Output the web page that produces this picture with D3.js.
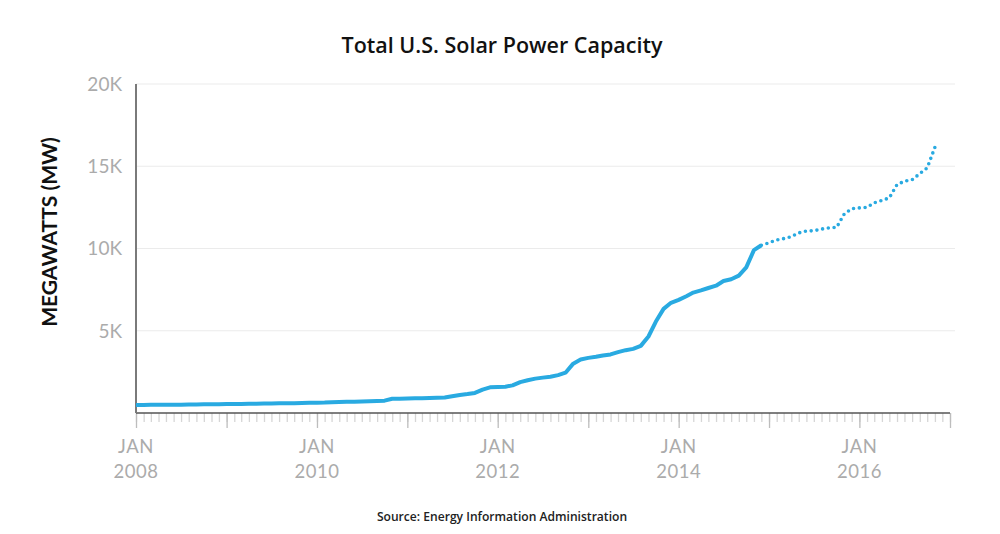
<!DOCTYPE html>
<html>
<head>
<meta charset="utf-8">
<script src="https://cdn.jsdelivr.net/npm/d3@7"></script>
<style>
  body { margin: 0; background: #fff; }
  svg { display: block; font-family: Lato, "Open Sans", sans-serif; }
</style>
</head>
<body>
<div id="chart"></div>
<script>
// monthly capacity, MW, starting Jan 2008
const startDate = new Date(2008, 0, 1);
const actualMW = [
  490, 490, 495, 495, 500, 500, 505, 510, 515, 525,
  530, 535, 540, 545, 550, 555, 560, 570, 580, 590,
  590, 600, 610, 620, 630, 640, 660, 670, 680, 690,
  700, 710, 730, 750, 870, 870, 880, 890, 900, 910,
  920, 940, 1020, 1100, 1150, 1220, 1420, 1560, 1580, 1600,
  1680, 1880, 1990, 2090, 2150, 2200, 2300, 2450, 3000, 3250,
  3350, 3420, 3500, 3560, 3700, 3820, 3900, 4080, 4650, 5560,
  6330, 6700, 6880, 7100, 7320, 7450, 7600, 7740, 8020, 8130,
  8350, 8850, 9900, 10200
];
// dotted part, starts at the last actual month (Dec 2014)
const estimatedMW = [
  10200, 10350, 10520, 10600, 10720, 10950, 11060, 11080, 11180, 11260,
  11280, 12100, 12420, 12470, 12500, 12780, 12920, 13080, 13880, 14090,
  14180, 14550, 14900, 16150
];
const yTicks = [5000, 10000, 15000, 20000];
const yTickLabels = ["5K", "10K", "15K", "20K"];
const labelYears = [2008, 2010, 2012, 2014, 2016];

const width = 1000, height = 534;
const margin = { top: 84, right: 50, bottom: 121, left: 136 };

const svg = d3.select('#chart').append('svg')
  .attr('width', width)
  .attr('height', height);

const monthDate = i => d3.timeMonth.offset(startDate, i);
const actual = actualMW.map((v, i) => ({ date: monthDate(i), value: v }));
const offset = actualMW.length - 1;
const estimated = estimatedMW.map((v, i) => ({ date: monthDate(offset + i), value: v }));

const x = d3.scaleTime()
  .domain([startDate, new Date(2017, 0, 1)])
  .range([margin.left, width - margin.right]);

const y = d3.scaleLinear()
  .domain([0, 20000])
  .range([height - margin.bottom, margin.top]);

// gridlines
svg.append('g')
  .selectAll('line')
  .data(yTicks)
  .join('line')
  .attr('x1', margin.left)
  .attr('x2', width - 45)
  .attr('y1', d => y(d))
  .attr('y2', d => y(d))
  .attr('stroke', '#ebebeb')
  .attr('stroke-width', 1);

// y tick labels
svg.append('g')
  .selectAll('text')
  .data(yTicks)
  .join('text')
  .attr('x', margin.left - 14)
  .attr('y', d => y(d))
  .attr('dy', '0.36em')
  .attr('text-anchor', 'end')
  .attr('fill', '#ababab')
  .attr('font-size', 19)
  .text((d, i) => yTickLabels[i]);

// monthly minor ticks
const x0 = height - margin.bottom;
svg.append('g')
  .attr('transform', `translate(0,${x0})`)
  .call(d3.axisBottom(x).ticks(d3.timeMonth.every(1)).tickSize(9).tickFormat(''))
  .call(g => g.select('.domain').remove())
  .call(g => g.selectAll('.tick line').attr('stroke', '#d6d6d6').attr('stroke-width', 1.3));

// yearly major ticks
svg.append('g')
  .attr('transform', `translate(0,${x0})`)
  .call(d3.axisBottom(x).ticks(d3.timeYear.every(1)).tickSize(15).tickFormat(''))
  .call(g => g.select('.domain').remove())
  .call(g => g.selectAll('.tick line').attr('stroke', '#bdbdbd').attr('stroke-width', 1.3));

// x labels
const xl = svg.append('g')
  .selectAll('g')
  .data(labelYears)
  .join('g')
  .attr('transform', d => `translate(${x(new Date(d, 0, 1))},0)`)
  .attr('fill', '#ababab')
  .attr('font-size', 18.5)
  .attr('text-anchor', 'middle');
xl.append('text').attr('y', 453).attr('letter-spacing', 0.5).text('JAN');
xl.append('text').attr('y', 478).attr('letter-spacing', 0.5).text(d => d);

// axis lines
svg.append('line')
  .attr('x1', margin.left).attr('x2', width - margin.right)
  .attr('y1', x0).attr('y2', x0)
  .attr('stroke', '#555').attr('stroke-width', 1.5);
svg.append('line')
  .attr('x1', margin.left).attr('x2', margin.left)
  .attr('y1', margin.top).attr('y2', x0)
  .attr('stroke', '#7a7a7a').attr('stroke-width', 2);

const line = d3.line()
  .x(d => x(d.date))
  .y(d => y(d.value));

svg.append('path')
  .datum(actual)
  .attr('fill', 'none')
  .attr('stroke', '#29aae1')
  .attr('stroke-width', 4)
  .attr('stroke-linejoin', 'round')
  .attr('d', line);

svg.append('path')
  .datum(estimated)
  .attr('fill', 'none')
  .attr('stroke', '#29aae1')
  .attr('stroke-width', 3.6)
  .attr('stroke-linecap', 'round')
  .attr('stroke-dasharray', '0 5.8')
  .attr('d', line);

// titles
svg.append('text')
  .attr('x', 502).attr('y', 53)
  .attr('text-anchor', 'middle')
  .attr('font-family', '"Open Sans", Lato, sans-serif')
  .attr('font-size', 21.5)
  .attr('font-weight', 600)
  .attr('fill', '#111')
  .text('Total U.S. Solar Power Capacity');

svg.append('text')
  .attr('transform', 'translate(57,232) rotate(-90)')
  .attr('text-anchor', 'middle')
  .attr('font-size', 21)
  .attr('font-weight', 'bold')
  .attr('fill', '#111')
  .text('MEGAWATTS (MW)');

svg.append('text')
  .attr('x', 502).attr('y', 521)
  .attr('text-anchor', 'middle')
  .attr('font-family', '"Open Sans", Lato, sans-serif')
  .attr('font-size', 12.1)
  .attr('font-weight', 600)
  .attr('fill', '#222')
  .text('Source: Energy Information Administration');
</script>
</body>
</html>
